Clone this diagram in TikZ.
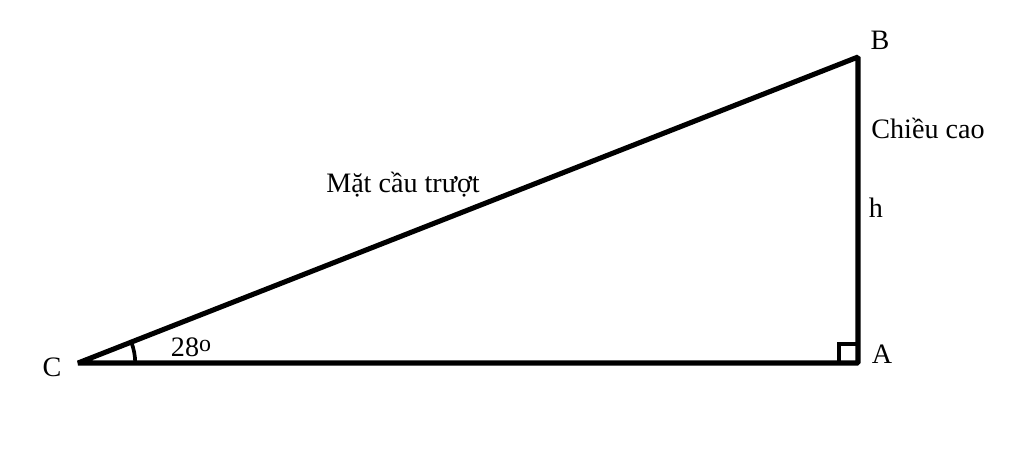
\documentclass[tikz,border=0pt]{standalone}
\usepackage{fontspec}
\setmainfont{Liberation Serif}
\usetikzlibrary{positioning}
\usetikzlibrary{angles}

\begin{document}
\begin{tikzpicture}[
  x=0.025cm, y=0.025cm,
  side/.style={line width=3.6pt},
  lbl/.style={font=\fontsize{20}{24}\selectfont, inner sep=0pt}
]
\useasboundingbox (0,0) rectangle (1024,450);

\coordinate (c) at (78,87);
\coordinate (a) at (858,87);
\coordinate (b) at (858,393);

\draw[side, line join=bevel] (c) -- (a) -- (b) -- cycle;

% right angle and angle marks
\draw[line width=2.6pt] (a) ++(-19,0) -- ++(0,19) -- ++(19,0);
\pic[draw, line width=2.6pt, angle radius=1.43cm] {angle=a--c--b};

\node[lbl] (labc) at (52,83) {C};
\node[lbl] (laba) at (882,96) {A};
\node[lbl] (labb) at (880,410) {B};
\node[lbl] (height) at (928,322) {Chiều cao};
\node[lbl] (hh) at (876,242) {h};
\node[lbl] (slope) at (403,265) {Mặt cầu trượt};
\node[lbl] (ang) at (191,103) {28\raisebox{0.35ex}{\fontsize{17}{20}\selectfont o}};

\end{tikzpicture}
\end{document}
